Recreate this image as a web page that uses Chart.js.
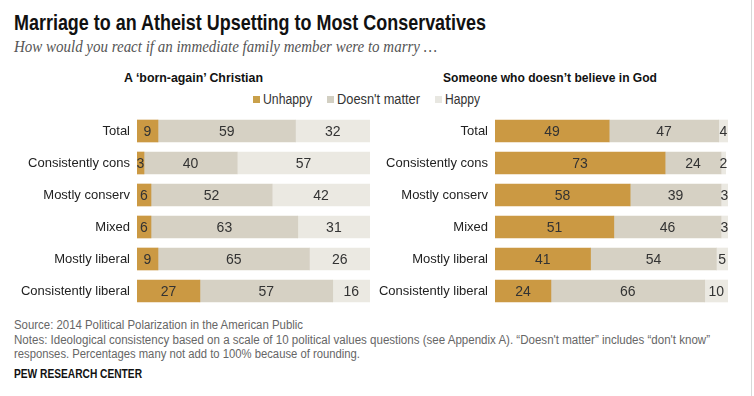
<!DOCTYPE html>
<html><head><meta charset="utf-8">
<script src="https://cdn.jsdelivr.net/npm/chart.js@4"></script>
<style>
body{margin:0;width:754px;height:396px;background:#fff;position:relative;overflow:hidden;font-family:"Liberation Sans",Arial,sans-serif;}
.abs{position:absolute;white-space:nowrap;transform-origin:0 50%;}
#frame{position:absolute;left:751px;top:0;width:1px;height:396px;background:#d8d8d8;}
.sq{position:absolute;width:7px;height:7px;}
canvas{position:absolute;}
</style></head><body>
<div id="frame"></div>
<div class="abs fit" data-w="472" style="left:14px;top:12px;font-size:22px;line-height:22px;font-weight:bold;color:#111;">Marriage to an Atheist Upsetting to Most Conservatives</div>
<div class="abs fit" data-w="423" style="left:14px;top:39px;font-size:16px;line-height:16px;font-style:italic;font-family:'Liberation Serif',serif;color:#555;">How would you react if an immediate family member were to marry …</div>
<div class="abs fit" data-w="139" data-cx="193" style="top:71px;font-size:13px;line-height:14px;font-weight:bold;color:#111;">A ‘born-again’ Christian</div>
<div class="abs fit" data-w="214" data-cx="550" style="top:71px;font-size:13px;line-height:14px;font-weight:bold;color:#111;">Someone who doesn’t believe in God</div>
<div id="legend"></div>
<canvas id="c1" width="375" height="192" style="left:0;top:115px;"></canvas>
<canvas id="c2" width="360" height="192" style="left:375px;top:115px;"></canvas>
<div class="abs fit" data-w="289" style="left:14px;top:319px;font-size:12px;line-height:12px;color:#666;">Source: 2014 Political Polarization in the American Public</div>
<div class="abs fit" data-w="696" style="left:14px;top:334px;font-size:12px;line-height:12px;color:#666;">Notes: Ideological consistency based on a scale of 10 political values questions (see Appendix A). “Doesn't matter” includes “don't know”</div>
<div class="abs fit" data-w="346" style="left:14px;top:348px;font-size:12px;line-height:12px;color:#666;">responses. Percentages many not add to 100% because of rounding.</div>
<div class="abs fit" data-w="128" style="left:14px;top:368px;font-size:12px;line-height:12px;font-weight:bold;color:#111;">PEW RESEARCH CENTER</div>
<script>
const categories = ["Total","Consistently cons","Mostly conserv","Mixed","Mostly liberal","Consistently liberal"];
const seriesNames = ["Unhappy","Doesn't matter","Happy"];
const christianUnhappy  = [9, 3, 6, 6, 9, 27];
const christianNoMatter = [59, 40, 52, 63, 65, 57];
const christianHappy    = [32, 57, 42, 31, 26, 16];
const atheistUnhappy    = [49, 73, 58, 51, 41, 24];
const atheistNoMatter   = [47, 24, 39, 46, 54, 66];
const atheistHappy      = [4, 2, 3, 3, 5, 10];
const colors = ["#CB9943", "#D6D1C4", "#EBE9E2"];

// legend
const legendPos = [[253, 263, 49], [327, 337, 83], [435, 445, 35]];
const lg = document.getElementById('legend');
seriesNames.forEach((n, i) => {
  const sq = document.createElement('div');
  sq.className = 'sq';
  sq.style.left = legendPos[i][0] + 'px';
  sq.style.top = '96px';
  sq.style.background = i === 0 ? '#C9A04A' : (i === 1 ? '#D2CFC2' : '#E8E7E1');
  lg.appendChild(sq);
  const t = document.createElement('div');
  t.className = 'abs fit';
  t.dataset.w = legendPos[i][2];
  t.style.cssText += 'left:' + legendPos[i][1] + 'px;top:92px;font-size:14px;line-height:14px;color:#333;';
  t.textContent = n;
  lg.appendChild(t);
});

// fit texts
document.querySelectorAll('.fit').forEach(el => {
  const w = el.getBoundingClientRect().width;
  const target = +el.dataset.w;
  const s = target / w;
  if (el.dataset.cx) el.style.left = (+el.dataset.cx - target / 2) + 'px';
  el.style.transform = 'scaleX(' + s + ')';
});

const valueLabels = {
  id: 'valueLabels',
  afterDatasetsDraw(chart) {
    const ctx = chart.ctx;
    ctx.save();
    ctx.font = '14px "Liberation Sans", Arial, sans-serif';
    ctx.fillStyle = '#333';
    ctx.textAlign = 'center';
    ctx.textBaseline = 'middle';
    chart.data.datasets.forEach((ds, di) => {
      const meta = chart.getDatasetMeta(di);
      meta.data.forEach((bar, i) => {
        const v = ds.data[i];
        const x = (bar.x + bar.base) / 2;
        ctx.fillText(String(v), x, bar.y + 1);
      });
    });
    ctx.restore();
  }
};

function makeChart(id, data, axisW, padRight) {
  return new Chart(document.getElementById(id), {
    type: 'bar',
    data: {
      labels: categories,
      datasets: data.map((d, i) => ({
        label: seriesNames[i], data: d, backgroundColor: colors[i],
        borderWidth: 0, barThickness: 22
      }))
    },
    options: {
      indexAxis: 'y', responsive: false, animation: false,
      layout: {autoPadding: false, padding: {left: 0, right: padRight, top: 0, bottom: 0}},
      plugins: {legend: {display: false}, tooltip: {enabled: false}},
      scales: {
        x: {stacked: true, min: 0, max: 100, display: false,
            afterFit: s => { s.paddingLeft = 0; s.paddingRight = 0; s.paddingTop = 0; s.paddingBottom = 0; s.height = 0; }},
        y: {
          stacked: true,
          grid: {display: false, drawTicks: false},
          border: {display: false},
          ticks: {color: '#222', padding: 7, font: {size: 13, family: '"Liberation Sans", Arial, sans-serif'}},
          afterFit: s => { s.width = axisW; s.paddingTop = 0; s.paddingBottom = 0; }
        }
      }
    },
    plugins: [valueLabels]
  });
}
makeChart('c1', [christianUnhappy, christianNoMatter, christianHappy], 137, 5);
makeChart('c2', [atheistUnhappy, atheistNoMatter, atheistHappy], 120, 7);
</script>
</body></html>
